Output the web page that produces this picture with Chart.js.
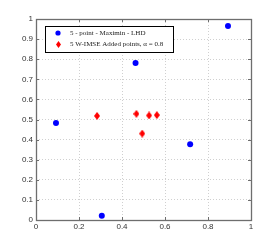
<!DOCTYPE html>
<html><head><meta charset="utf-8">
<script src="https://cdn.jsdelivr.net/npm/chart.js@4"></script>
<style>html,body{margin:0;padding:0;background:#fff}#wrap{width:277px;height:249px}</style>
</head><body><div id="wrap"><canvas id="c" width="277" height="249"></canvas></div>
<script>
const seriesNames = ['5 - point - Maximin - LHD', '5 W-IMSE Added points, \u03B1 = 0.8'];
const lhdX = [0.093, 0.306, 0.463, 0.717, 0.893];
const lhdY = [0.482, 0.021, 0.781, 0.377, 0.965];
const addX = [0.284, 0.467, 0.494, 0.526, 0.562];
const addY = [0.518, 0.528, 0.430, 0.520, 0.522];
const xTicks = [0, 0.2, 0.4, 0.6, 0.8, 1];
const yTicks = [0, 0.1, 0.2, 0.3, 0.4, 0.5, 0.6, 0.7, 0.8, 0.9, 1];

function diamond(w, h, color) {
  const c = document.createElement('canvas');
  c.width = w; c.height = h;
  const g = c.getContext('2d');
  g.fillStyle = color;
  g.beginPath();
  g.moveTo(w/2, 0); g.lineTo(w, h/2); g.lineTo(w/2, h); g.lineTo(0, h/2); g.closePath();
  g.fill();
  return c;
}
const redDiamond = diamond(6, 8, '#ff0000');

const boxPlugin = {
  id: 'box',
  afterDraw(chart) {
    const {ctx, chartArea: a, scales} = chart;
    ctx.save();
    ctx.strokeStyle = '#6e6e6e';
    ctx.lineWidth = 1;
    ctx.setLineDash([]);
    ctx.beginPath();
    xTicks.forEach(v => {
      const px = Math.round(scales.x.getPixelForValue(v)) + 0.5;
      ctx.moveTo(px, a.bottom); ctx.lineTo(px, a.bottom - 3);
      ctx.moveTo(px, a.top); ctx.lineTo(px, a.top + 3);
    });
    yTicks.forEach(v => {
      const py = Math.round(scales.y.getPixelForValue(v)) + 0.5;
      ctx.moveTo(a.left, py); ctx.lineTo(a.left + 3, py);
      ctx.moveTo(a.right, py); ctx.lineTo(a.right - 3, py);
    });
    ctx.stroke();
    ctx.lineWidth = 1.3;
    ctx.strokeRect(Math.round(a.left)+0.5, Math.round(a.top)+0.5, Math.round(a.right - a.left), Math.round(a.bottom - a.top));
    // legend
    const lx = 45, ly = 26, lw = 128, lh = 26;
    ctx.fillStyle = '#fff';
    ctx.fillRect(lx, ly, lw, lh);
    ctx.strokeStyle = '#000';
    ctx.lineWidth = 1;
    ctx.strokeRect(lx + 0.5, ly + 0.5, lw, lh);
    ctx.fillStyle = '#0000ff';
    ctx.beginPath(); ctx.arc(58, 33, 2.6, 0, Math.PI*2); ctx.fill();
    ctx.drawImage(diamond(5, 7, '#ff0000'), 56, 41);
    ctx.fillStyle = '#222';
    ctx.font = '7px "Liberation Serif"';
    ctx.textBaseline = 'middle';
    ctx.fillText(seriesNames[0], 70, 33.5);
    ctx.fillText(seriesNames[1], 70, 44.5);
    ctx.restore();
  }
};

new Chart(document.getElementById('c'), {
  type: 'scatter',
  data: {
    datasets: [
      { label: seriesNames[0], data: lhdX.map((x, i) => ({x, y: lhdY[i]})),
        pointStyle: 'circle', pointRadius: 3, backgroundColor: '#0000ff', borderColor: '#0000ff', borderWidth: 0 },
      { label: seriesNames[1], data: addX.map((x, i) => ({x, y: addY[i]})),
        pointStyle: redDiamond, backgroundColor: '#ff0000', borderColor: '#ff0000' }
    ]
  },
  options: {
    responsive: false, animation: false, devicePixelRatio: 1,
    layout: { padding: { left: 0, top: 19, right: 26, bottom: 0 } },
    plugins: { legend: { display: false }, tooltip: { enabled: false } },
    scales: {
      x: {
        type: 'linear', min: 0, max: 1,
        afterFit(s) { s.height = 29; },
        afterBuildTicks(s) { s.ticks = xTicks.map(v => ({value: v})); },
        ticks: { font: { family: '"Liberation Sans"', size: 8 }, color: '#333', padding: 2,
          callback: v => String(v) },
        grid: { color: '#d0d0d0', drawTicks: false, lineWidth: 1 },
        border: { display: false, dash: [1, 2] }
      },
      y: {
        type: 'linear', min: 0, max: 1,
        afterFit(s) { s.width = 36; },
        afterBuildTicks(s) { s.ticks = yTicks.map(v => ({value: v})); },
        ticks: { font: { family: '"Liberation Sans"', size: 8 }, color: '#333', padding: 3,
          callback: v => String(v) },
        grid: { color: '#d0d0d0', drawTicks: false, lineWidth: 1 },
        border: { display: false, dash: [1, 2] }
      }
    }
  },
  plugins: [boxPlugin]
});
</script></body></html>
